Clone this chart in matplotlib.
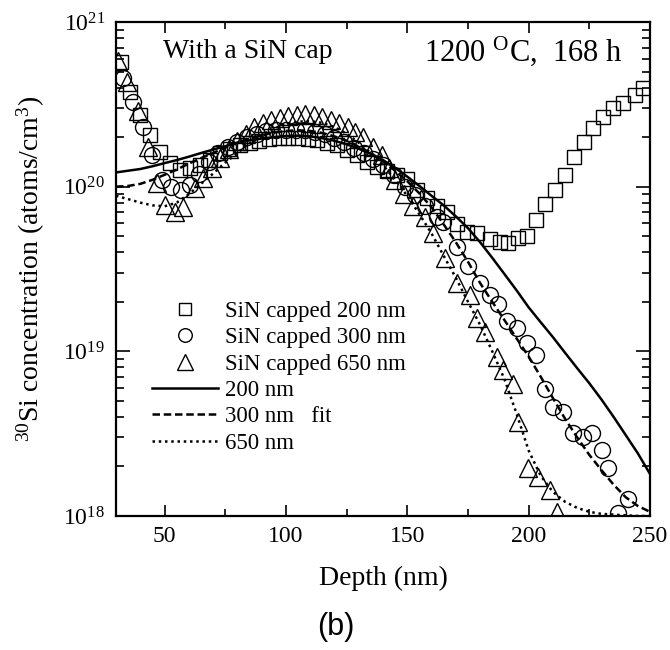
import numpy as np
import matplotlib
matplotlib.use("Agg")
import matplotlib.pyplot as plt
from matplotlib.ticker import LogLocator, MultipleLocator, NullFormatter

plt.rcParams['font.family'] = ['Liberation Serif', 'DejaVu Serif']
plt.rcParams['mathtext.fontset'] = 'custom'
plt.rcParams['mathtext.rm'] = 'Liberation Serif'
plt.rcParams['mathtext.it'] = 'Liberation Serif:italic'
plt.rcParams['mathtext.bf'] = 'Liberation Serif:bold'

# ---------------- data ----------------
sq_depth = [32, 35.8, 39.9, 44, 48.1, 52.2, 56.4, 60.5, 64.6, 68.7, 72.8, 76.9, 81, 85, 89, 93, 97,
            101, 105, 109, 113, 117, 121, 125, 129.3, 133.4, 137.5, 141.6, 145.7, 149.8, 153.9, 158,
            162.1, 166.2, 170.3, 174.6, 178.7, 184, 188.2, 191.5, 195.6, 199.3, 203, 206.7, 210.9,
            215, 218.7, 222.8, 226.5, 230.6, 234.8, 238.9, 243.8, 247.1]
sq_conc = [5.7e20, 3.76e20, 2.72e20, 2.06e20, 1.62e20, 1.39e20, 1.26e20, 1.29e20, 1.35e20, 1.45e20,
           1.6e20, 1.7e20, 1.78e20, 1.85e20, 1.9e20, 1.95e20, 1.98e20, 1.98e20, 1.97e20, 1.95e20,
           1.92e20, 1.85e20, 1.78e20, 1.68e20, 1.56e20, 1.41e20, 1.32e20, 1.25e20, 1.18e20, 1.12e20,
           9.5e19, 8.5e19, 7.6e19, 7.0e19, 5.9e19, 5.3e19, 5.2e19, 4.8e19, 4.6e19, 4.55e19, 4.9e19,
           5.0e19, 6.3e19, 7.9e19, 9.6e19, 1.18e20, 1.52e20, 1.87e20, 2.27e20, 2.64e20, 3.0e20,
           3.2e20, 3.6e20, 4.0e20]

ci_depth = [32.9, 36.8, 41.1, 45, 49, 52.7, 56.6, 60.5, 64.4, 68.3, 72.2, 76.1, 80, 84, 88, 92, 96,
            100, 104, 108, 112, 116, 120, 124, 128, 132, 136, 140, 144.5, 149.1, 153.2, 157.5,
            162.3, 164.7, 170.5, 175, 180, 184.1, 187.2, 191.1, 195.2, 199.3, 203, 206.7, 210,
            214.2, 218.3, 222.4, 226.1, 230.2, 232.7, 236.8, 240.9]
ci_conc = [4.6e20, 3.27e20, 2.3e20, 1.55e20, 1.1e20, 1.0e20, 9.6e19, 1.02e20, 1.2e20, 1.42e20,
           1.6e20, 1.75e20, 1.88e20, 2.0e20, 2.1e20, 2.17e20, 2.2e20, 2.22e20, 2.22e20, 2.2e20,
           2.15e20, 2.08e20, 1.98e20, 1.86e20, 1.72e20, 1.6e20, 1.47e20, 1.35e20, 1.18e20, 1.0e20,
           8.9e19, 7.6e19, 6.5e19, 6.1e19, 4.3e19, 3.3e19, 2.6e19, 2.2e19, 1.94e19, 1.53e19,
           1.38e19, 1.12e19, 9.5e18, 5.9e18, 4.6e18, 4.3e18, 3.2e18, 3.0e18, 3.2e18, 2.5e18,
           1.95e18, 1.05e18, 1.27e18]

tr_depth = [30.8, 34.5, 39.1, 43.2, 46.9, 50.2, 54.3, 57.6, 62.5, 65.8, 69.5, 73, 76.5, 80, 83.5,
            87, 90.5, 94, 97.5, 101, 104.5, 108, 111.5, 115, 118.5, 122, 125.5, 128.5, 131.8,
            135.7, 139.6, 142.5, 145, 148.5, 152.4, 157.3, 160.6, 165.5, 170.5, 175.8, 178.7, 182,
            187, 189.4, 193.6, 195.6, 199.7, 203.9, 208.8, 211.7]
tr_conc = [5.8e20, 4.3e20, 2.9e20, 1.74e20, 1.05e20, 7.7e19, 7.0e19, 7.5e19, 9.8e19, 1.13e20,
           1.3e20, 1.5e20, 1.7e20, 1.9e20, 2.1e20, 2.3e20, 2.45e20, 2.55e20, 2.62e20, 2.68e20,
           2.72e20, 2.75e20, 2.72e20, 2.65e20, 2.55e20, 2.45e20, 2.3e20, 2.15e20, 2.0e20, 1.75e20,
           1.55e20, 1.3e20, 1.1e20, 9.0e19, 7.6e19, 6.5e19, 5.2e19, 3.7e19, 2.6e19, 2.2e19,
           1.59e19, 1.31e19, 9.2e18, 7.7e18, 6.3e18, 3.7e18, 1.95e18, 1.73e18, 1.44e18, 1.06e18]

fit_depth = [30, 35, 40, 45, 50, 55, 60, 65, 70, 75, 80, 85, 90, 95, 100, 105, 110, 115, 120, 125,
             130, 135, 140, 145, 150, 155, 160, 165, 170, 175, 180, 185, 190, 195, 200, 205, 210,
             215, 220, 225, 230, 235, 240, 245, 250]
fit_200 = [1.22e20, 1.25e20, 1.28e20, 1.33e20, 1.39e20, 1.45e20, 1.52e20, 1.6e20, 1.68e20, 1.76e20,
           1.84e20, 1.91e20, 1.96e20, 2.0e20, 2.03e20, 2.04e20, 2.02e20, 1.97e20, 1.9e20, 1.81e20,
           1.7e20, 1.58e20, 1.45e20, 1.3e20, 1.15e20, 1.01e20, 8.8e19, 7.7e19, 6.6e19, 5.6e19,
           4.6e19, 3.7e19, 2.95e19, 2.35e19, 1.85e19, 1.5e19, 1.22e19, 9.8e18, 7.9e18, 6.4e18,
           5.1e18, 4.0e18, 3.1e18, 2.4e18, 1.8e18]
fit_300 = [1.0e20, 1.01e20, 1.04e20, 1.1e20, 1.18e20, 1.27e20, 1.38e20, 1.49e20, 1.6e20, 1.73e20,
           1.85e20, 1.96e20, 2.05e20, 2.13e20, 2.18e20, 2.2e20, 2.18e20, 2.12e20, 2.02e20, 1.9e20,
           1.75e20, 1.6e20, 1.42e20, 1.25e20, 1.08e20, 9.1e19, 7.5e19, 5.9e19, 4.6e19, 3.5e19,
           2.6e19, 2.0e19, 1.55e19, 1.2e19, 9.3e18, 7.0e18, 5.2e18, 3.9e18, 3.0e18, 2.35e18,
           1.9e18, 1.55e18, 1.3e18, 1.15e18, 1.06e18]
fit_650 = [8.8e19, 8.4e19, 8.0e19, 7.7e19, 7.6e19, 8.0e19, 9.0e19, 1.04e20, 1.2e20, 1.4e20,
           1.6e20, 1.83e20, 2.05e20, 2.25e20, 2.4e20, 2.48e20, 2.5e20, 2.44e20, 2.3e20, 2.1e20,
           1.85e20, 1.6e20, 1.35e20, 1.1e20, 8.8e19, 6.8e19, 5.2e19, 3.8e19, 2.8e19, 2.0e19,
           1.45e19, 1.0e19, 6.8e18, 4.2e18, 2.5e18, 1.75e18, 1.4e18, 1.22e18, 1.12e18, 1.06e18,
           1.03e18, 1.02e18, 1.01e18, 1.0e18, 1.0e18]

labels = ["SiN capped 200 nm", "SiN capped 300 nm", "SiN capped 650 nm",
          "200 nm", "300 nm   fit", "650 nm"]
x_ticks = [50, 100, 150, 200, 250]

# ---------------- figure ----------------
fig = plt.figure(figsize=(6.7, 6.5), dpi=100)
ax = fig.add_axes([116/670, 1-516/650, (650-116)/670, (516-22)/650])

mk = dict(linestyle='none', mfc='none', mec='black', mew=1.0, zorder=2)
h1, = ax.plot(sq_depth, sq_conc, marker='s', ms=10.5, label=labels[0], **mk)
h2, = ax.plot(ci_depth, ci_conc, marker='o', ms=11.5, label=labels[1], **mk)
h3, = ax.plot(tr_depth, tr_conc, marker='^', ms=13, label=labels[2], **mk)
h4, = ax.plot(fit_depth, fit_200, color='black', lw=1.8, linestyle='-', label=labels[3], zorder=3)
h5, = ax.plot(fit_depth, fit_300, color='black', lw=1.8, linestyle=(0, (3, 1.5)), label=labels[4], zorder=3)
h6, = ax.plot(fit_depth, fit_650, color='black', lw=1.8, linestyle=(0, (1, 1.5)), label=labels[5], zorder=3)

ax.set_yscale('log')
ax.set_xlim(30, 250)
ax.set_ylim(1e18, 1e21)
ax.set_xticks(x_ticks)
ax.xaxis.set_minor_locator(MultipleLocator(25))
ax.yaxis.set_major_locator(LogLocator(base=10, numticks=10))
ax.yaxis.set_minor_locator(LogLocator(base=10, subs=np.arange(2, 10), numticks=20))
ax.yaxis.set_minor_formatter(NullFormatter())

ax.tick_params(which='both', direction='in', top=True, right=True, labelsize=17, width=1.2)
ax.tick_params(axis='x', which='major', length=8, pad=7)
ax.tick_params(axis='x', which='minor', length=5)
ax.tick_params(axis='y', which='major', length=10, pad=8)
ax.tick_params(axis='y', which='minor', length=6)
for s in ax.spines.values():
    s.set_linewidth(1.6)

ax.set_ylabel(r"$^{30}$Si concentration (atoms/cm$^{3}$)", fontsize=20)
ax.yaxis.set_label_coords(-0.129, 0.5)
fig.text(383/670, 1-578/650, "Depth (nm)", fontsize=20, ha='center', va='center')
fig.text(336/670, 1-627/650, "(b)", fontsize=22, ha='center', va='center',
         family=['Liberation Sans', 'DejaVu Sans'])

ax.text(0.088, 0.941, "With a SiN cap", transform=ax.transAxes, fontsize=20, ha='left', va='center')
ax.text(0.949, 0.941, r"1200 $^{\mathrm{O}}$C,  168 h", transform=ax.transAxes, fontsize=22,
        ha='right', va='center')

leg = ax.legend(handles=[h1, h2, h3, h4, h5, h6], loc='upper left', bbox_to_anchor=(0.067, 0.435),
                frameon=False, fontsize=16.5, handlelength=2.9, handletextpad=0.3, labelspacing=0.23,
                borderpad=0, borderaxespad=0, markerscale=0.85)

fig.savefig("out.png", dpi=100)
